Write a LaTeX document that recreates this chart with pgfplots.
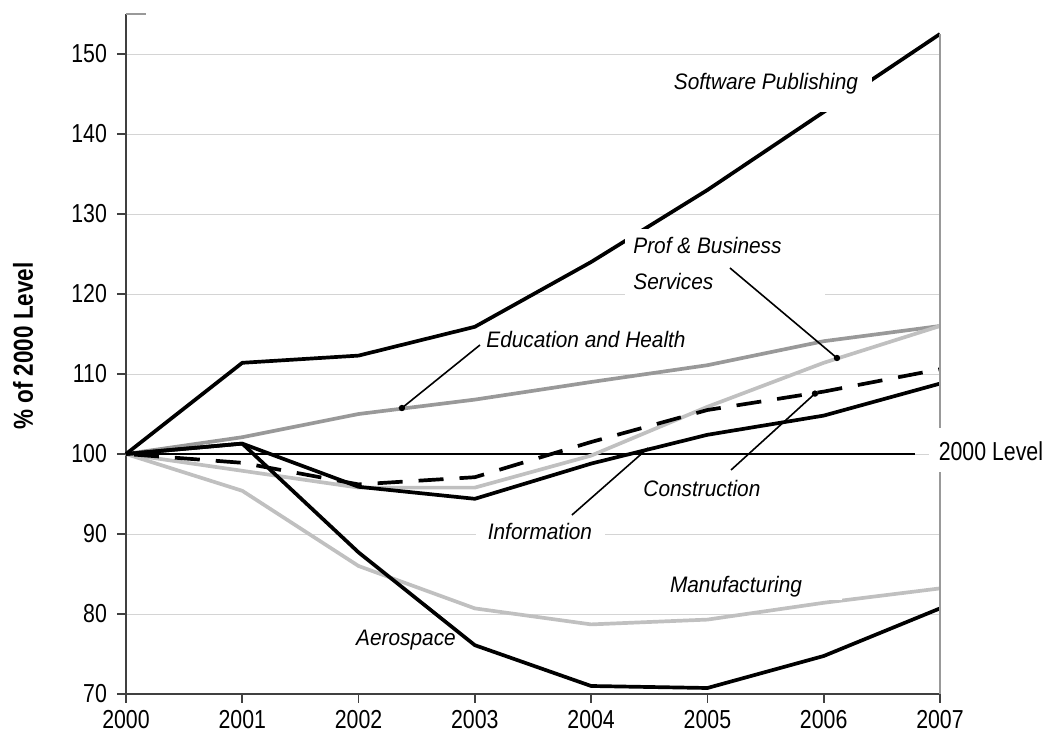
\documentclass[border=0pt]{standalone}
\usepackage{fontspec}
\setmainfont{Liberation Sans}
\newfontfamily\narrowfont{Liberation Sans}[FakeStretch=0.82]
\newfontfamily\labelfont{Liberation Sans}[FakeStretch=0.93]
\usepackage{pgfplots}
\pgfplotsset{compat=1.18}
\definecolor{midgray}{HTML}{999999}
\definecolor{ltgray}{HTML}{C0C0C0}
\definecolor{gridgray}{HTML}{D4D4D4}
\definecolor{axgray}{HTML}{404040}
\begin{document}
\begin{tikzpicture}
\begin{axis}[
  at={(0,0)}, anchor=south west, scale only axis,
  width=407pt, height=340pt,
  xmin=0, xmax=7, ymin=70, ymax=155,
  xtick={0,1,2,3,4,5,6,7},
  xticklabels={2000,2001,2002,2003,2004,2005,2006,2007},
  ytick={70,80,90,100,110,120,130,140,150},
  axis x line*=bottom, axis y line*=left,
  axis line style={-, axgray, line width=0.8pt},
  tick align=outside, major tick length=4.5pt,
  tick style={axgray, line width=0.8pt},
  ymajorgrids, grid style={gridgray, line width=0.5pt},
  /pgf/number format/assume math mode=true,
  ticklabel style={font=\narrowfont\fontsize{13}{13}\selectfont},
  yticklabel style={xshift=-1.5pt},
  clip=false,
  every axis plot/.append style={line join=round},
]
% 2000 level
\addplot[black, line width=1.35pt] coordinates {(0,100) (6.785,100)};
% Education and Health
\addplot[midgray, line width=1.85pt] coordinates {(0,100) (1,102.1) (2,105) (3,106.8) (4,109) (5,111.1) (6,114.1) (7,116)};
% Prof & Business Services
\addplot[ltgray, line width=1.85pt] coordinates {(0,100) (1,97.9) (2,95.8) (3,95.8) (4,99.8) (5,105.9) (6,111.4) (7,116)};
% Manufacturing
\addplot[ltgray, line width=1.85pt] coordinates {(0,100) (1,95.4) (2,86) (3,80.7) (4,78.7) (5,79.3) (6,81.4) (7,83.2)};
% Construction
\addplot[black, line width=1.85pt, dash pattern=on 12.5pt off 8pt, dash phase=-4pt] coordinates {(0,100) (1,98.9) (2,96.2) (3,97.1) (4,101.5) (5,105.5) (6,107.8) (7,110.6)};
% Information
\addplot[black, line width=1.85pt] coordinates {(0,100) (1,101.3) (2,95.9) (3,94.4) (4,98.8) (5,102.4) (6,104.8) (7,108.8)};
% Aerospace
\addplot[black, line width=1.85pt] coordinates {(0,100) (1,101.3) (2,87.7) (3,76.1) (4,71) (5,70.75) (6,74.75) (7,80.7)};
% Software Publishing
\addplot[black, line width=1.85pt] coordinates {(0,100) (1,111.4) (2,112.3) (3,115.9) (4,124) (5,133) (6,142.75) (7,152.5)};

% frame bits
\draw[midgray, line width=1pt] (axis cs:7,70) -- (axis cs:7,152.5);
\draw[midgray, line width=0.8pt] (axis cs:0,155) -- (axis cs:0.172,155);

% white label boxes
\fill[white] (axis cs:4.660,149.0) rectangle (axis cs:6.415,142.75);
\fill[white] (axis cs:4.291,128.125) rectangle (axis cs:6.011,119.25);
\fill[white] (axis cs:3.079,116.0) rectangle (axis cs:4.850,112.5);
\fill[white] (axis cs:3.010,91.75) rectangle (axis cs:4.119,88.625);
\fill[white] (axis cs:4.403,97.0) rectangle (axis cs:5.504,94.25);
\fill[white] (axis cs:4.914,84.875) rectangle (axis cs:6.160,81.75);
\fill[white] (axis cs:1.969,77.25) rectangle (axis cs:2.840,75.6);
\fill[white] (axis cs:6.905,103.25) rectangle (axis cs:7.912,97.75);

\begin{scope}[every node/.append style={inner sep=0pt, font=\labelfont\itshape\fontsize{11.2}{18}\selectfont}]
\node at (axis cs:5.504,146.25) {Software Publishing};
\node[anchor=west, align=left] at (axis cs:4.360,123.875) {Prof \& Business\\Services};
\node at (axis cs:3.956,114.375) {Education and Health};
\node at (axis cs:3.560,90.375) {Information};
\node at (axis cs:4.953,95.75) {Construction};
\node at (axis cs:5.246,83.375) {Manufacturing};
\node at (axis cs:2.408,76.75) {Aerospace};
\end{scope}
\node[inner sep=0pt, font=\narrowfont\fontsize{13}{13}\selectfont] at (axis cs:7.438,100.375) {2000 Level};
\node[rotate=90, inner sep=0pt, font=\narrowfont\bfseries\fontsize{13.7}{13.7}\selectfont] at (axis cs:-0.886,113.5) {\% of 2000 Level};

% pointers
\draw[black, line width=0.8pt] (axis cs:3.044,113.625) -- (axis cs:2.373,105.75);
\fill[black] (axis cs:2.373,105.75) circle[radius=1.6pt];
\draw[black, line width=0.8pt] (axis cs:5.194,123.25) -- (axis cs:6.114,112.0);
\fill[black] (axis cs:6.114,112.0) circle[radius=1.6pt];
\draw[black, line width=0.8pt] (axis cs:5.203,98.0) -- (axis cs:5.925,107.55);
\fill[black] (axis cs:5.925,107.55) circle[radius=1.6pt];
\draw[black, line width=0.8pt] (axis cs:3.835,92.375) -- (axis cs:4.49,100.75);
\end{axis}
\pgfresetboundingbox
\useasboundingbox (-63pt,-23pt) rectangle (460pt,347pt);
\end{tikzpicture}
\end{document}
